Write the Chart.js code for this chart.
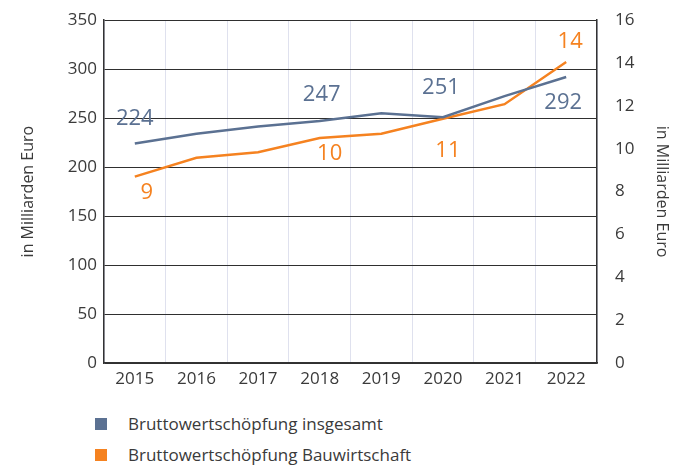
<!DOCTYPE html>
<html>
<head>
<meta charset="utf-8">
<script src="https://cdn.jsdelivr.net/npm/chart.js@4/dist/chart.umd.min.js"></script>
<style>
  html, body { margin: 0; padding: 0; background: #fff; }
  #wrap { position: relative; width: 683px; height: 393px; }
  .legend { position: absolute; left: 95px; font: 17px "Open Sans", sans-serif; color: #3a3a3a; }
  .legend div { position: relative; height: 31px; line-height: 31px; padding-left: 33px; }
  .legend span { position: absolute; left: 0; top: 10px; width: 12px; height: 12px; }
</style>
</head>
<body>
<div id="wrap"><canvas id="chart"></canvas></div>
<div class="legend" id="legend" style="top: 408px;"></div>
<script>
"use strict";

const years = ['2015', '2016', '2017', '2018', '2019', '2020', '2021', '2022'];
const gesamt = [224, 234, 241.5, 247, 255, 251, 272.5, 292];
const bau = [8.7, 9.58, 9.84, 10.5, 10.7, 11.4, 12.08, 14.05];
const gesamtLabels = ['224', null, null, '247', null, '251', null, '292'];
const bauLabels = ['9', null, null, '10', null, '11', null, '14'];
const seriesNames = ['Bruttowertschöpfung insgesamt', 'Bruttowertschöpfung Bauwirtschaft'];

const BLUE = '#5b7192';
const ORANGE = '#f58220';
const TEXT = '#3a3a3a';
const FONT = '"Open Sans", sans-serif';

// label offsets (dx, dy) from the point
const labelOffsets = [
  [[0, -25], null, null, [2, -26], null, [-2, -29], null, [-3, 26]],
  [[12, 16], null, null, [10, 16], null, [5, 32], null, [4, -20]]
];

const valueLabels = {
  id: 'valueLabels',
  afterDatasetsDraw(chart) {
    const ctx = chart.ctx;
    const sets = [gesamtLabels, bauLabels];
    ctx.save();
    ctx.font = '22px ' + FONT;
    ctx.textAlign = 'center';
    ctx.textBaseline = 'middle';
    sets.forEach((labels, di) => {
      const meta = chart.getDatasetMeta(di);
      ctx.fillStyle = chart.data.datasets[di].borderColor;
      labels.forEach((txt, i) => {
        if (!txt) return;
        const p = meta.data[i];
        const off = labelOffsets[di][i];
        ctx.fillText(txt, p.x + off[0], p.y + off[1]);
      });
    });
    ctx.restore();
  }
};

const canvas = document.getElementById('chart');

new Chart(canvas, {
  type: 'line',
  data: {
    labels: years,
    datasets: [{
      label: seriesNames[0],
      data: gesamt,
      borderColor: BLUE,
      backgroundColor: BLUE,
      borderWidth: 2.5,
      pointRadius: 0,
      tension: 0,
      yAxisID: 'y'
    }, {
      label: seriesNames[1],
      data: bau,
      borderColor: ORANGE,
      backgroundColor: ORANGE,
      borderWidth: 2.5,
      pointRadius: 0,
      tension: 0,
      yAxisID: 'y2'
    }]
  },
  options: {
    responsive: true,
    maintainAspectRatio: false,
    animation: false,
    layout: { padding: { top: 11, left: 0, right: 0, bottom: 0 } },
    plugins: {
      legend: { display: false },
      tooltip: { enabled: false }
    },
    scales: {
      x: {
        offset: true,
        grid: { offset: true, color: '#dfe1ee', lineWidth: 1, drawTicks: false },
        border: { display: true, color: '#333', width: 1.5 },
        ticks: { color: TEXT, font: { family: FONT, size: 17 }, padding: 6, maxRotation: 0 },
        afterFit: (s) => { s.height = 30; }
      },
      y: {
        position: 'left',
        min: 0,
        max: 350,
        ticks: { stepSize: 50, color: TEXT, font: { family: FONT, size: 17 }, padding: 7 },
        grid: { color: '#2f2f2f', lineWidth: 1, drawTicks: false },
        border: { display: true, color: '#333', width: 1.5 },
        title: {
          display: true,
          text: 'in Milliarden Euro',
          color: TEXT,
          font: { family: FONT, size: 16 },
          padding: { top: 19, bottom: 0 }
        },
        afterFit: (s) => { s.width = 104; }
      },
      y2: {
        position: 'right',
        min: 0,
        max: 16,
        ticks: { stepSize: 2, color: TEXT, font: { family: FONT, size: 17 }, padding: 10 },
        grid: { display: false },
        border: { display: true, color: '#333', width: 1.5 },
        title: {
          display: true,
          text: 'in Milliarden Euro',
          color: TEXT,
          font: { family: FONT, size: 16 },
          padding: { top: 12, bottom: 0 }
        },
        afterFit: (s) => { s.width = 86; }
      }
    }
  },
  plugins: [valueLabels]
});

const legend = document.getElementById('legend');
[BLUE, ORANGE].forEach((c, i) => {
  const row = document.createElement('div');
  const sw = document.createElement('span');
  sw.style.background = c;
  row.appendChild(sw);
  row.appendChild(document.createTextNode(seriesNames[i]));
  legend.appendChild(row);
});
</script>
</body>
</html>
